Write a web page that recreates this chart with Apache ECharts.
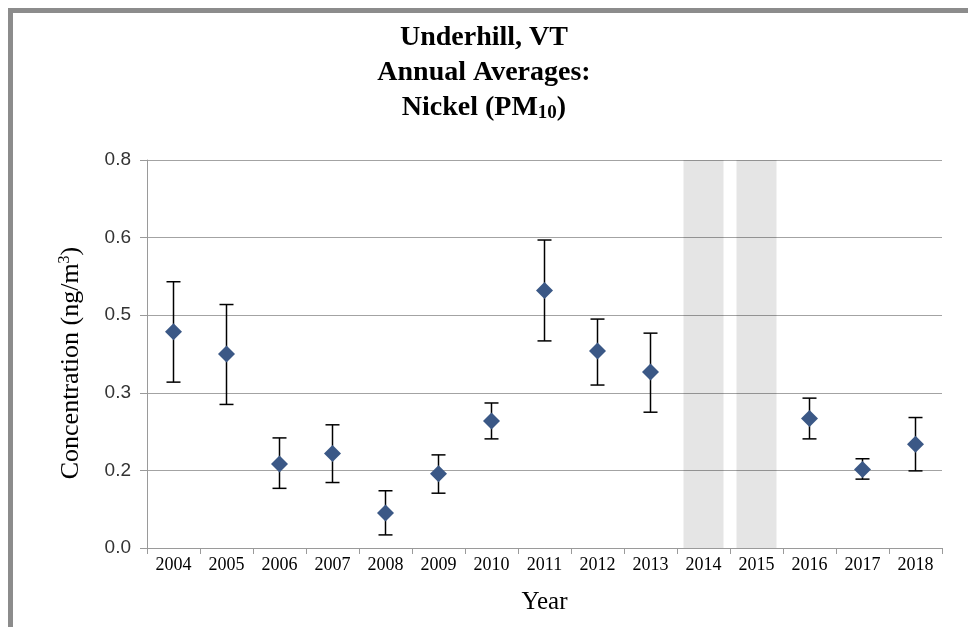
<!DOCTYPE html>
<html>
<head>
<meta charset="utf-8">
<script src="https://cdn.jsdelivr.net/npm/echarts@6/dist/echarts.min.js"></script>
<style>
  html, body { margin: 0; padding: 0; background: #fff; }
  #chart { width: 968px; height: 627px; }
</style>
</head>
<body>
<div id="chart"></div>
<script>
// Annual average nickel (PM10) concentrations, Underhill VT, with error bars
const years = ['2004','2005','2006','2007','2008','2009','2010','2011','2012','2013','2014','2015','2016','2017','2018'];
const means = [0.446, 0.400, 0.173, 0.195, 0.072, 0.153, 0.262, 0.531, 0.406, 0.363, null, null, 0.267, 0.162, 0.214];
const lower = [0.342, 0.296, 0.123, 0.135, 0.027, 0.113, 0.225, 0.427, 0.336, 0.280, null, null, 0.225, 0.142, 0.159];
const upper = [0.549, 0.502, 0.227, 0.254, 0.118, 0.192, 0.299, 0.635, 0.472, 0.443, null, null, 0.309, 0.184, 0.269];
// Years without a complete record are shaded across the full axis height
const noDataYears = ['2014', '2015'];
const yTicks = { min: 0, max: 0.8, step: 0.16 };

const SERIF = '"Liberation Serif", "Times New Roman", serif';
const SANS = '"Liberation Sans", Arial, sans-serif';

const bandData = years.map(y => noDataYears.includes(y) ? yTicks.max : null);
const errData = years.map((y, i) => means[i] == null ? null : [i, lower[i], upper[i]]);

const chart = echarts.init(document.getElementById('chart'), null, { renderer: 'canvas' });

chart.setOption({
  backgroundColor: '#ffffff',
  animation: false,
  title: {
    text: 'Underhill, VT\nAnnual Averages:\nNickel (PM{sub|10})',
    left: 'center',
    top: 15,
    textStyle: {
      fontFamily: SERIF,
      fontWeight: 'bold',
      fontSize: 28,
      lineHeight: 35,
      color: '#000',
      rich: {
        sub: {
          fontFamily: SERIF,
          fontWeight: 'bold',
          fontSize: 19,
          color: '#000',
          padding: [12, 0, 0, 0]
        }
      }
    }
  },
  graphic: [
    { type: 'rect', shape: { x: 8, y: 8, width: 960, height: 5 }, style: { fill: '#8c8c8c' }, silent: true },
    { type: 'rect', shape: { x: 8, y: 8, width: 5, height: 619 }, style: { fill: '#8c8c8c' }, silent: true }
  ],
  grid: { left: 147, right: 26, top: 160, bottom: 79, containLabel: false },
  xAxis: {
    type: 'category',
    data: years,
    name: 'Year',
    nameLocation: 'middle',
    nameGap: 42,
    nameTextStyle: { fontFamily: SERIF, fontSize: 25, color: '#000' },
    axisLine: { show: true, lineStyle: { color: '#9a9a9a', width: 1 } },
    axisTick: { show: true, alignWithLabel: false, length: 6, lineStyle: { color: '#9a9a9a' } },
    axisLabel: { fontFamily: SERIF, fontSize: 18, color: '#000', margin: 8, interval: 0 },
    splitLine: { show: false }
  },
  yAxis: {
    type: 'value',
    min: yTicks.min,
    max: yTicks.max,
    interval: yTicks.step,
    name: 'Concentration (ng/m{sup|3})',
    nameLocation: 'middle',
    nameGap: 62,
    nameTextStyle: {
      fontFamily: SERIF, fontSize: 26, color: '#000',
      padding: [0, 18, 0, 0],
      rich: { sup: { fontFamily: SERIF, fontSize: 16, color: '#000', padding: [0, 0, 12, 0] } }
    },
    axisLine: { show: true, lineStyle: { color: '#9a9a9a', width: 1 } },
    axisTick: { show: true, length: 7, lineStyle: { color: '#9a9a9a' } },
    axisLabel: {
      fontFamily: SANS, fontSize: 19, color: '#333', margin: 16,
      formatter: v => v.toFixed(1)
    },
    splitLine: { show: true, lineStyle: { color: '#a3a3a3', width: 1.2 } }
  },
  series: [
    {
      // translucent shading so the gridlines stay visible through the bands
      name: 'No data',
      type: 'bar',
      data: bandData,
      barWidth: 40,
      itemStyle: { color: 'rgba(0,0,0,0.1)' },
      z: 1,
      silent: true
    },
    {
      name: 'Error',
      type: 'custom',
      data: errData,
      z: 15,
      renderItem: function (params, api) {
        const i = api.value(0);
        const lo = api.coord([i, api.value(1)]);
        const hi = api.coord([i, api.value(2)]);
        const cap = 7;
        const style = { stroke: '#000', lineWidth: 1.5, fill: null };
        return {
          type: 'group',
          children: [
            { type: 'line', shape: { x1: hi[0], y1: hi[1], x2: lo[0], y2: lo[1] }, style },
            { type: 'line', shape: { x1: hi[0] - cap, y1: hi[1], x2: hi[0] + cap, y2: hi[1] }, style },
            { type: 'line', shape: { x1: lo[0] - cap, y1: lo[1], x2: lo[0] + cap, y2: lo[1] }, style }
          ]
        };
      },
      encode: { x: 0, y: [1, 2] }
    },
    {
      name: 'Annual average',
      type: 'scatter',
      data: means,
      symbol: 'diamond',
      symbolSize: [17, 17],
      itemStyle: { color: '#3b5886', opacity: 1 },
      z: 20
    }
  ]
});
</script>
</body>
</html>
